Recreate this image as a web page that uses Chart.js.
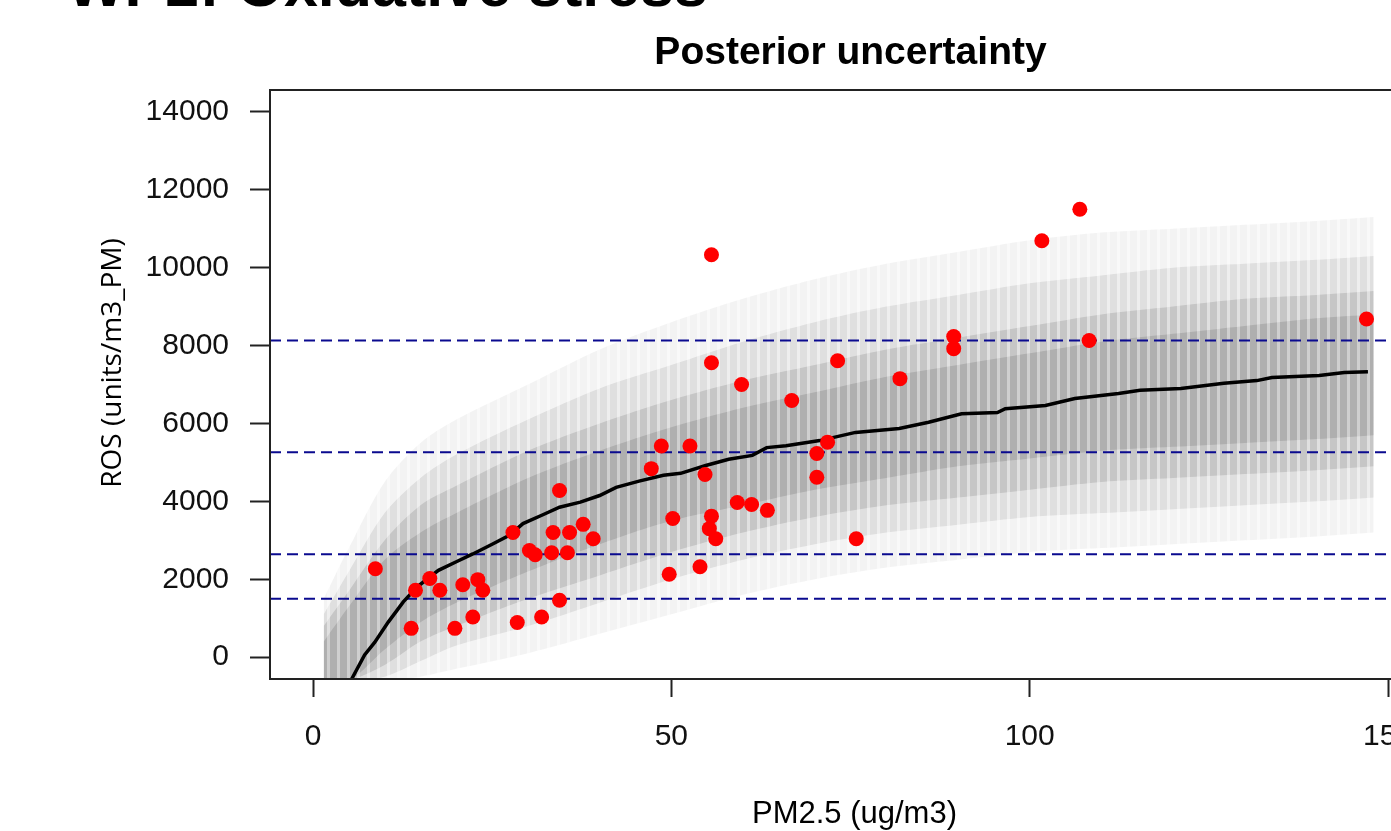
<!DOCTYPE html>
<html>
<head>
<meta charset="utf-8">
<script src="https://cdn.jsdelivr.net/npm/chart.js@4.4.1/dist/chart.umd.min.js"></script>
<style>
	html, body { margin: 0; padding: 0; background: #fff; overflow: hidden; }
	#wrap { width: 1450px; height: 831px; }
</style>
</head>
<body>
<div id="wrap"><canvas id="chart" width="1450" height="831"></canvas></div>
<script>
// texts
const pageHeading = 'WP2: Oxidative stress';
const chartTitle = 'Posterior uncertainty';
const xTitle = 'PM2.5 (ug/m3)';
const yTitle = 'ROS (units/m3_PM)';

// axis ticks
const xTicks = [0, 50, 100, 150];
const yTicks = [0, 2000, 4000, 6000, 8000, 10000, 12000, 14000];

// observed samples (red dots)
const obsX = [8.7, 14.3, 13.7, 16.3, 17.7, 19.8, 20.9, 22.3, 23.0, 23.7, 27.9, 28.5, 30.2, 31.0, 31.9,
	33.5, 33.3, 34.4, 34.4, 35.8, 35.5, 37.7, 39.1, 47.2, 48.6, 50.2, 49.7, 52.6, 54.0, 54.7,
	55.6, 55.3, 56.2, 59.8, 59.2, 61.2, 63.4, 66.8, 70.3, 70.3, 71.8, 75.8, 81.9, 73.2, 89.4,
	89.4, 101.7, 107.0, 108.3, 147.0, 55.6, 55.6];
const obsY = [2270, 1720, 740, 2020, 1720, 740, 1860, 1030, 1990, 1720, 3200, 890, 2740, 2630, 1030,
	3200, 2680, 4280, 1460, 3200, 2680, 3410, 3040, 4840, 5420, 3560, 2130, 5420, 2320, 4690,
	3620, 3300, 3040, 7000, 3970, 3920, 3770, 6590, 5230, 4620, 5520, 3040, 7150, 7610, 8230,
	7920, 10690, 11500, 8130, 8680, 10330, 7560];

// posterior median curve
const medX = [5.4, 7.2, 8.6, 10.5, 12.6, 14.5, 17.5, 20, 22.3, 25, 27.4, 29.3, 32, 34.4, 37.3,
	40, 42.3, 45.5, 48.9, 51.3, 54.8, 58, 61.3, 63.3, 66, 70.7, 75.7, 81.8, 85.9, 90.5,
	95.5, 96.6, 102.2, 106.3, 112.4, 115.4, 121.1, 127.1, 131.7, 133.8, 140.4, 143.9, 147.2];
const medY = [-560, 60, 380, 900, 1420, 1800, 2230, 2450, 2650, 2900, 3130, 3430, 3650, 3850, 3980,
	4150, 4360, 4520, 4670, 4720, 4920, 5080, 5180, 5380, 5430, 5560, 5770, 5870, 6030, 6250,
	6280, 6380, 6460, 6640, 6770, 6850, 6900, 7030, 7100, 7180, 7230, 7310, 7330];

// grey cloud of posterior draws, read as four nested envelopes
const cloudX = [1.5, 5, 10, 15, 20, 30, 40, 50, 60, 70, 80, 90, 100, 110, 120, 130, 140, 148];
const faintLo = [-600, -600, -600, -500, -300, 100, 600, 1100, 1600, 2000, 2300, 2500, 2700, 2800, 2900, 3000, 3100, 3200];
const faintHi = [1500, 2800, 4500, 5500, 6100, 7000, 7900, 8600, 9200, 9700, 10100, 10400, 10700, 10900, 11000, 11100, 11200, 11300];
const lightLo = [-600, -600, -500, -100, 300, 800, 1400, 2000, 2500, 2900, 3200, 3400, 3600, 3700, 3800, 3900, 4000, 4100];
const lightHi = [1100, 2200, 3700, 4600, 5200, 6100, 6900, 7500, 8100, 8600, 9000, 9300, 9600, 9800, 10000, 10100, 10200, 10300];
const midLo = [-600, -600, -200, 400, 800, 1500, 2100, 2700, 3200, 3600, 3900, 4100, 4300, 4500, 4600, 4700, 4800, 4900];
const midHi = [800, 1700, 3000, 3900, 4400, 5300, 6000, 6600, 7100, 7500, 7900, 8200, 8500, 8800, 9000, 9200, 9300, 9400];
const coreLo = [-600, -600, 200, 900, 1400, 2200, 2900, 3500, 3900, 4300, 4600, 4900, 5100, 5300, 5400, 5500, 5600, 5700];
const coreHi = [400, 1300, 2500, 3200, 3700, 4600, 5300, 5900, 6400, 6800, 7200, 7500, 7800, 8100, 8300, 8500, 8700, 8800];

// dashed reference levels
const refLevels = [8130, 5260, 2640, 1500];

const xMin = -6;
const xMax = 156;
const yMin = -560;
const yMax = 14560;

const FONT = '"Liberation Sans", Arial, Helvetica, sans-serif';

let toPoints = (xs, ys) => xs.map((x, i) => ({ x: x, y: ys[i] }));

// vertical stripes to mimic the columns of open circles
let makeStripes = (alpha) => {
	let tile = document.createElement('canvas');
	tile.width = 10;
	tile.height = 4;
	let tctx = tile.getContext('2d');
	tctx.fillStyle = `rgba(140, 140, 140, ${alpha})`;
	tctx.fillRect(0, 0, 7, 4);
	tctx.fillStyle = `rgba(140, 140, 140, ${alpha * 0.5})`;
	tctx.fillRect(7, 0, 3, 4);
	return tctx.createPattern(tile, 'repeat');
};

let band = (lo, hi, fillStyle, order) => [
	{
		type: 'line',
		data: toPoints(cloudX, lo),
		borderWidth: 0,
		pointRadius: 0,
		fill: false,
		tension: 0.3,
		order: order,
	},
	{
		type: 'line',
		data: toPoints(cloudX, hi),
		borderWidth: 0,
		pointRadius: 0,
		fill: '-1',
		backgroundColor: fillStyle,
		tension: 0.3,
		order: order,
	},
];

let refLines = refLevels.map(v => ({
	type: 'line',
	data: [ { x: xMin, y: v }, { x: xMax, y: v } ],
	borderColor: '#0a0a8f',
	borderWidth: 2,
	borderDash: [ 11, 6 ],
	pointRadius: 0,
	fill: false,
	order: 3,
}));

// box, titles and the cropped page heading
let frameAndTexts = {
	id: 'frameAndTexts',
	afterDraw (chart) {
		let { ctx, chartArea } = chart;
		let mid = (chartArea.left + chartArea.right) / 2;
		ctx.save();
		ctx.lineWidth = 2;
		ctx.strokeStyle = '#222';
		ctx.strokeRect(chartArea.left, chartArea.top, chartArea.right - chartArea.left, chartArea.bottom - chartArea.top);

		ctx.fillStyle = '#000';
		ctx.textBaseline = 'alphabetic';
		ctx.textAlign = 'left';
		ctx.font = 'bold 61px ' + FONT;
		ctx.fillText(pageHeading, 67, 6);

		ctx.textAlign = 'center';
		ctx.font = 'bold 39px ' + FONT;
		ctx.fillText(chartTitle, mid, 64);

		ctx.font = '31px ' + FONT;
		ctx.fillText(xTitle, mid + 4, 823);

		ctx.translate(113, 363);
		ctx.rotate(-Math.PI / 2);
		ctx.textBaseline = 'middle';
		ctx.font = '28px "Open Sans", "Noto Sans", sans-serif';
		ctx.fillText(yTitle, 0, 0);
		ctx.restore();
	},
};

let config = {
	type: 'scatter',
	data: {
		datasets: [
			{
				type: 'scatter',
				data: toPoints(obsX, obsY),
				backgroundColor: '#ff0000',
				borderWidth: 0,
				pointRadius: 7.5,
				pointHoverRadius: 7.5,
				order: 0,
			},
			{
				type: 'line',
				data: toPoints(medX, medY),
				borderColor: '#000',
				borderWidth: 3.5,
				pointRadius: 0,
				fill: false,
				order: 1,
			},
			...refLines,
			...band(faintLo, faintHi, makeStripes(0.1), 9),
			...band(lightLo, lightHi, makeStripes(0.2), 8),
			...band(midLo, midHi, makeStripes(0.3), 7),
			...band(coreLo, coreHi, makeStripes(0.4), 6),
		],
	},
	options: {
		responsive: false,
		animation: false,
		devicePixelRatio: 1,
		events: [],
		layout: { padding: { left: 0, top: 90, right: 19, bottom: 0 } },
		plugins: {
			legend: { display: false },
			tooltip: { enabled: false },
			title: { display: false },
		},
		scales: {
			x: {
				type: 'linear',
				min: xMin,
				max: xMax,
				afterBuildTicks: (scale) => { scale.ticks = xTicks.map(v => ({ value: v })); },
				afterFit: (scale) => { scale.height = 152; },
				border: { display: false },
				grid: { drawOnChartArea: false, tickLength: 18, tickWidth: 2, tickColor: '#222' },
				ticks: {
					padding: 22,
					color: '#111',
					maxRotation: 0,
					autoSkip: false,
					font: { family: FONT, size: 30 },
					callback: (value) => String(value),
				},
			},
			y: {
				type: 'linear',
				min: yMin,
				max: yMax,
				afterBuildTicks: (scale) => { scale.ticks = yTicks.map(v => ({ value: v })); },
				afterFit: (scale) => { scale.width = 270; },
				border: { display: false },
				grid: { drawOnChartArea: false, tickLength: 20, tickWidth: 2, tickColor: '#222' },
				ticks: {
					padding: 21,
					color: '#111',
					autoSkip: false,
					font: { family: FONT, size: 30 },
					callback: (value) => String(value),
				},
			},
		},
	},
	plugins: [ frameAndTexts ],
};

new Chart(document.getElementById('chart'), config);
</script>
</body>
</html>
